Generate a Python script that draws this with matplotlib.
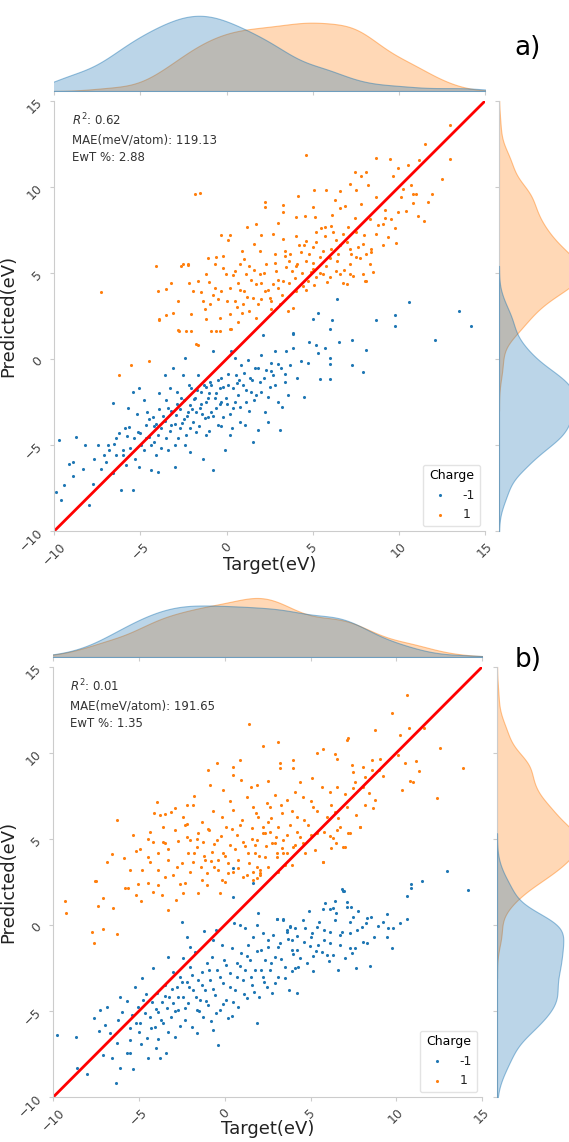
import numpy as np
import pandas as pd
import matplotlib
matplotlib.use("Agg")
import matplotlib.pyplot as plt
import seaborn as sns

# ---- panel a) : (target, predicted) ----
a_neg_pts = [
    (-9.71, -4.72), (-9.9, -7.73), (-9.6, -8.22), (-9.42, -7.35), (-9.13, -6.08), (-8.93, -5.99),
    (-8.74, -4.52), (-8.35, -6.37), (-7.97, -8.51), (-7.77, -7.25), (-7.67, -5.79), (-7.48, -5.01),
    (-7.09, -5.59), (-7.0, -5.99), (-6.9, -5.01), (-6.61, -2.58), (-6.51, -4.92), (-6.41, -5.59),
    (-6.22, -4.32), (-6.12, -7.64), (-6.03, -5.3), (-5.83, -6.17), (-5.74, -2.87), (-5.64, -3.94),
    (-5.45, -7.6), (-5.45, -1.89), (-5.35, -4.61), (-5.16, -4.23), (-5.06, -1.7), (-4.96, -5.01),
    (-4.77, -2.38), (-4.67, -3.84), (-4.48, -4.52), (-4.38, -6.47), (-4.28, -3.36), (-4.19, -4.81),
    (-3.99, -6.57), (-3.9, -1.99), (-3.8, -4.03), (-3.6, -0.92), (-3.51, -4.61), (-3.41, -2.87),
    (-3.31, -1.7), (-3.22, -3.84), (-3.12, -0.53), (-3.02, -5.01), (-3.02, -6.28), (-2.93, -3.25),
    (-2.73, -4.03), (-2.64, -2.28), (-2.54, -0.92), (-2.44, 0.06), (-2.34, -4.43), (-2.25, -3.06),
    (-2.15, -5.39), (-2.05, -1.7), (-1.96, -3.65), (-1.86, -2.28), (-1.76, -4.23), (-1.67, -0.92),
    (-1.57, -2.87), (-1.47, -1.89), (-1.38, -5.79), (-1.28, -3.45), (-1.18, -4.43), (-1.09, -2.28),
    (-0.99, -1.31), (-0.89, -3.06), (-0.79, 0.44), (-0.79, -6.47), (-0.7, -2.28), (-0.6, -2.87),
    (-0.5, -3.84), (-0.41, -1.7), (-0.31, -1.11), (-0.21, -3.36), (-0.12, -5.3), (-0.02, -2.28),
    (0.08, -1.5), (0.17, -4.43), (0.27, 0.44), (0.37, -2.87), (0.47, 0.06), (0.56, -0.92),
    (0.66, -2.09), (0.76, -3.65), (0.85, -0.34), (0.95, -1.5), (1.05, -3.84), (1.14, -2.48),
    (1.24, -0.04), (1.34, -1.11), (1.43, -1.89), (1.53, -4.81), (1.63, -0.53), (1.72, -2.09),
    (1.82, -4.14), (1.92, -1.31), (2.02, 0.25), (2.11, 1.42), (2.21, -3.06), (2.31, -0.63),
    (2.4, -3.65), (2.5, -1.6), (2.6, -0.24), (2.69, -0.92), (2.79, 0.44), (2.98, -2.48),
    (3.08, -4.14), (3.18, -0.53), (3.37, -1.31), (3.47, 0.44), (3.57, -2.09), (3.66, -0.34),
    (3.86, 0.64), (3.86, 1.51), (-4.6, -3.1), (-3.7, -3.3), (-2.9, -2.6), (-2.1, -2.7),
    (-1.2, -1.6), (-0.3, -2.5), (0.6, -1.4), (-5.8, -4.5), (-4.1, -3.8), (-2.5, -3.5),
    (6.4, 3.5), (10.6, 3.29), (8.7, 2.25), (9.8, 2.56), (9.8, 1.89), (13.5, 2.77),
    (14.2, 1.94), (12.1, 1.11), (7.3, 1.11), (8.1, 0.54), (7.3, -0.35), (7.9, -0.77),
    (6.0, -1.18), (5.4, -1.18), (4.5, -2.22), (5.0, 2.35), (5.3, 2.67), (6.1, 2.25),
    (6.0, 1.73), (3.85, 1.48), (6.5, 1.0), (5.7, 0.64), (6.0, 0.07), (6.0, -0.29),
    (5.3, 0.35), (4.7, -0.25), (4.3, -0.14), (4.8, 1.0), (5.2, 0.79), (4.1, -1.1),
    (-6.8, -5.3), (-6.4, -4.6), (-6.0, -5.6), (-5.9, -4.0), (-5.6, -5.2), (-5.3, -5.8),
    (-5.2, -3.2), (-5.0, -4.3), (-4.8, -5.3), (-4.7, -4.6), (-4.5, -3.5), (-4.4, -5.0),
    (-4.2, -3.9), (-4.0, -4.4), (-3.9, -2.9), (-3.8, -5.2), (-3.6, -3.6), (-3.5, -2.4),
    (-3.3, -4.2), (-3.2, -3.0), (-3.0, -3.8), (-2.9, -1.9), (-2.8, -4.6), (-2.7, -2.9),
    (-2.6, -3.7), (-2.5, -2.4), (-2.3, -3.3), (-2.2, -1.5), (-2.1, -4.0), (-2.0, -2.9),
    (-1.9, -2.3), (-1.8, -3.1), (-1.7, -1.8), (-1.6, -3.9), (-1.5, -2.6), (-1.4, -3.2),
    (-1.3, -1.5), (-1.2, -2.5), (-1.1, -3.4), (-1.0, -2.0), (-0.9, -1.5), (-0.8, -3.3),
    (-0.6, -2.0), (-0.5, -1.2), (-0.4, -2.6), (-0.3, -3.9), (-0.2, -1.6), (0.0, -2.6),
    (0.1, -0.9), (0.2, -3.2), (0.4, -1.7), (0.5, -2.5), (0.7, -1.2), (0.8, -2.8),
    (1.0, -0.8), (1.1, -1.8), (1.3, -3.0), (1.5, -1.2), (1.6, -2.4), (1.8, -0.5),
    (2.0, -1.9), (2.2, -1.1), (2.4, -2.2), (2.6, -0.7), (2.8, -1.5), (3.0, -0.3),
    (3.2, -2.8), (3.4, -0.9), (-7.3, -6.4), (-8.2, -5.0), (-8.9, -6.8), (-6.6, -6.6),
    (-5.1, -6.3), (-4.1, -5.6), (-3.4, -5.3), (-2.4, -5.0), (-1.0, -4.2), (0.3, -4.0),
]
a_pos_pts = [
    (4.63, 11.88), (-1.86, 9.6), (-1.57, 9.64), (12.96, 13.6), (11.51, 12.48), (12.96, 11.65),
    (8.66, 11.71), (9.51, 11.65), (11.18, 11.56), (9.96, 11.1), (10.54, 11.26), (12.48, 10.49),
    (7.44, 10.87), (8.12, 10.87), (7.83, 10.62), (7.15, 10.19), (8.21, 10.09), (9.67, 10.64),
    (10.25, 9.89), (10.73, 10.09), (11.02, 9.6), (11.9, 9.6), (11.7, 9.11), (10.83, 9.06),
    (10.15, 9.42), (8.7, 9.42), (7.54, 9.8), (6.57, 9.76), (5.79, 9.84), (5.07, 9.84),
    (4.14, 9.47), (2.21, 9.11), (3.27, 8.98), (6.28, 9.27), (5.02, 8.82), (6.57, 8.79),
    (9.18, 8.64), (9.96, 8.53), (11.12, 8.32), (11.45, 8.01), (9.57, 8.15), (9.09, 7.86),
    (8.31, 8.15), (7.44, 8.19), (7.05, 7.66), (6.08, 7.75), (5.69, 7.66), (5.11, 8.24),
    (4.53, 8.34), (4.05, 8.28), (3.27, 8.53), (2.21, 8.82), (1.72, 7.86), (1.2, 7.7),
    (-0.31, 7.23), (0.17, 7.23), (0.07, 6.92), (2.69, 7.27), (3.27, 6.97), (4.05, 7.17),
    (4.63, 6.88), (5.21, 7.37), (5.69, 7.14), (6.37, 6.92), (6.76, 7.27), (7.54, 7.37),
    (7.92, 6.68), (8.7, 7.27), (9.09, 6.63), (9.86, 6.72), (9.38, 7.12), (1.62, 6.68),
    (1.92, 6.3), (2.79, 6.1), (3.37, 6.3), (3.66, 6.1), (4.34, 6.2), (5.02, 6.49),
    (5.4, 5.91), (6.08, 6.39), (6.47, 6.1), (7.15, 6.39), (7.54, 5.91), (8.12, 6.1),
    (8.31, 5.52), (7.15, 5.52), (6.37, 5.13), (5.79, 5.42), (5.02, 5.22), (4.63, 5.71),
    (4.05, 5.42), (3.47, 5.32), (2.88, 5.13), (2.3, 5.52), (1.92, 4.93), (1.33, 5.42),
    (1.14, 4.93), (0.75, 5.52), (0.46, 5.13), (-0.02, 4.93), (-0.6, 5.91), (-0.7, 5.52),
    (-1.19, 4.93), (-1.67, 4.54), (-2.25, 5.52), (-2.54, 5.52), (-3.22, 4.44), (-4.09, 5.42),
    (-3.99, 3.96), (-3.51, 4.06), (-3.9, 2.3), (-3.12, 2.69), (-2.74, 1.63), (-2.35, 1.63),
    (-2.06, 2.59), (-1.96, 3.96), (-1.38, 3.37), (-1.28, 2.88), (-0.99, 3.18), (-0.7, 4.15),
    (-0.41, 2.4), (-0.31, 3.96), (0.17, 2.59), (0.27, 1.72), (0.46, 3.37), (0.66, 4.44),
    (0.95, 3.18), (1.04, 3.96), (1.33, 2.79), (1.53, 3.57), (1.72, 4.35), (2.01, 3.47),
    (2.21, 3.96), (2.5, 3.57), (2.69, 4.35), (2.98, 4.15), (3.27, 4.54), (3.56, 2.79),
    (3.85, 2.98), (4.05, 3.96), (4.43, 4.25), (4.73, 4.54), (4.92, 5.03), (5.21, 4.74),
    (5.6, 4.93), (5.99, 4.74), (6.76, 4.44), (7.15, 4.93), (7.92, 4.93), (8.12, 4.54),
    (-0.6, 1.63), (0.17, 1.72), (0.66, 2.17), (-1.77, 0.85), (-6.22, -0.92), (-5.54, -0.34),
    (-4.48, -0.1), (-3.9, 2.29), (-3.51, 2.58), (-2.83, 1.71), (-2.05, 1.62), (-1.67, 0.84),
    (-0.89, 1.62), (-0.41, 1.62), (-7.3, 3.9), (-2.63, 5.41), (-2.25, 5.47), (8.02, 4.54),
    (8.5, 5.03), (7.35, 4.84), (7.76, 5.9), (6.97, 4.35), (6.58, 4.93), (8.4, 6.2),
    (-1.5, 3.9), (-1.0, 4.5), (-0.5, 3.5), (-0.2, 5.3), (0.2, 4.1), (0.4, 4.9),
    (0.6, 3.0), (0.8, 4.0), (1.0, 5.8), (1.2, 3.6), (1.4, 4.6), (1.6, 5.2),
    (1.8, 3.2), (2.0, 4.4), (2.2, 5.0), (2.4, 4.0), (2.6, 3.4), (2.8, 5.6),
    (3.0, 4.6), (3.2, 3.7), (3.4, 6.0), (3.6, 4.4), (3.8, 5.1), (4.0, 4.7),
    (4.2, 6.6), (4.4, 5.0), (4.6, 4.0), (4.8, 6.1), (5.0, 5.6), (5.2, 6.8),
    (5.4, 5.0), (5.6, 6.3), (5.8, 4.5), (6.0, 5.9), (6.2, 7.4), (6.4, 5.7),
    (6.6, 6.6), (6.8, 5.2), (7.0, 6.8), (7.2, 6.1), (7.6, 6.5), (8.0, 7.2),
    (8.4, 6.4), (8.8, 7.8), (9.2, 8.2), (9.8, 7.6), (10.4, 8.6), (10.8, 9.6),
    (-2.8, 3.4), (-2.2, 4.4), (-1.2, 2.3), (-0.8, 3.7), (0.0, 3.4), (0.9, 2.7),
    (1.7, 2.4), (2.6, 2.9), (3.1, 3.2), (3.6, 5.7), (4.1, 5.5), (4.5, 6.6),
    (5.1, 4.3), (5.5, 7.6), (6.1, 8.4), (6.9, 8.9), (7.8, 9.0), (3.0, 7.9),
    (2.0, 7.2), (0.9, 6.3), (-0.2, 6.0), (-1.1, 5.9),
]

# ---- panel b) ----
b_neg_pts = [
    (-9.8, -6.39), (-8.67, -6.53), (-8.64, -8.29), (-8.05, -8.66), (-7.6, -5.39), (-7.31, -6.16),
    (-7.27, -4.94), (-6.98, -5.81), (-6.89, -4.75), (-7.08, -7.56), (-6.59, -7.75), (-6.69, -6.3),
    (-6.3, -6.88), (-6.34, -9.2), (-6.11, -8.33), (-6.11, -4.16), (-6.01, -5.04), (-5.72, -7.46),
    (-5.53, -7.42), (-5.53, -6.01), (-5.43, -5.23), (-5.37, -8.39), (-5.23, -3.58), (-5.18, -5.71),
    (-5.04, -4.75), (-4.94, -5.71), (-4.85, -3.1), (-4.75, -4.36), (-4.65, -5.13), (-4.55, -6.59),
    (-4.46, -7.75), (-4.36, -5.33), (-4.26, -4.46), (-4.17, -2.52), (-4.07, -5.91), (-4.01, -7.17),
    (-3.97, -3.97), (-3.87, -5.04), (-3.78, -7.75), (-3.68, -4.46), (-3.58, -5.71), (-3.48, -3.49),
    (-3.43, -7.46), (-3.39, -4.84), (-3.29, -1.84), (-3.23, -4.16), (-3.15, -5.33), (-3.04, -2.71),
    (-3.0, -4.55), (-2.9, -6.49), (-2.8, -3.58), (-2.71, -4.94), (-2.61, -3.0), (-2.51, 0.16),
    (-2.45, -1.94), (-2.42, -4.16), (-2.32, -5.52), (-2.22, -3.29), (-2.18, -0.68), (-2.12, -4.55),
    (-2.03, -2.42), (-1.93, -5.91), (-1.83, -3.78), (-1.74, -1.55), (-1.64, -4.94), (-1.54, -3.2),
    (-1.44, -4.36), (-1.35, -2.71), (-1.25, -5.33), (-1.19, -0.35), (-1.15, -3.78), (-1.06, -2.23),
    (-0.96, -4.65), (-0.86, -3.2), (-0.76, -1.84), (-0.7, -0.87), (-0.67, -6.1), (-0.57, -4.07),
    (-0.47, -2.61), (-0.37, -6.97), (-0.28, -4.94), (-0.18, -1.16), (-0.12, -3.39), (-0.04, -2.03),
    (0.07, -4.36), (0.21, -5.42), (0.31, -2.81), (0.4, -1.35), (0.5, 1.65), (0.54, 0.1),
    (0.6, -3.78), (0.69, -2.23), (0.79, -4.75), (0.89, 0.0), (0.93, -1.64), (1.04, -3.2),
    (1.18, -2.61), (1.28, -4.26), (1.37, -1.16), (1.47, -2.03), (1.57, -3.49), (1.67, -0.68),
    (1.76, -2.61), (1.86, -5.71), (1.9, 0.0), (1.96, 0.68), (2.02, -4.16), (2.09, -1.45),
    (2.21, -3.0), (2.25, -0.48), (2.35, -2.03), (2.44, -3.58), (2.54, -1.26), (2.64, -2.61),
    (2.74, -3.97), (2.79, -0.58), (2.93, -1.84), (3.03, 0.33), (3.12, -3.0), (3.22, -1.06),
    (3.41, 0.33), (3.51, -2.42), (3.61, -0.29), (3.77, -3.78), (3.8, -0.1), (3.9, -1.45),
    (4.19, -1.45), (4.23, -3.93), (4.29, -2.42), (0.5, 3.3), (1.63, 2.46),
    (12.94, 3.13), (14.2, 2.03), (11.52, 2.57), (10.86, 2.38), (10.86, 2.13), (10.6, 1.7),
    (6.87, 1.99), (6.95, 1.97), (6.43, 1.39), (7.11, 1.31), (7.36, 1.02), (7.11, 1.02),
    (7.79, 0.83), (6.29, 0.96), (5.71, 0.91), (4.93, 0.83), (6.48, 0.67), (7.5, 0.48),
    (8.27, 0.38), (8.51, 0.48), (9.48, 0.62), (9.21, 0.19), (10.6, 0.32), (10.22, 0.13),
    (9.79, -0.16), (9.5, -0.2), (8.95, -0.06), (8.23, 0.09), (7.98, -0.1), (7.69, -0.3),
    (7.3, -0.49), (6.81, -0.39), (6.13, -0.43), (5.79, -0.3), (5.36, -0.1), (5.07, -0.49),
    (4.58, 0.29), (4.68, -0.2), (3.8, -0.06), (3.41, 0.29), (3.03, 0.32), (3.61, -0.39),
    (3.9, -0.88), (4.19, -0.64), (4.97, -1.23), (5.45, -1.17), (6.13, -1.07), (6.72, -1.17),
    (7.3, -1.36), (7.59, -1.32), (8.08, -0.97), (8.27, -1.03), (8.7, -0.68), (9.44, -0.72),
    (9.73, -1.32), (5.94, -1.75), (6.33, -1.75), (5.65, -1.55), (5.16, -1.81), (3.99, -1.71),
    (4.09, -2.52), (5.16, -2.68), (6.62, -2.62), (7.65, -2.52), (8.47, -2.39), (7.4, -1.65),
    (5.84, 1.26), (6.13, 0.91), (6.82, 2.08),
    (-5.0, -6.2), (-4.6, -4.0), (-4.3, -6.0), (-4.0, -4.9), (-3.7, -5.5), (-3.5, -4.1),
    (-3.3, -6.2), (-3.1, -3.7), (-2.9, -5.0), (-2.7, -4.2), (-2.5, -3.3), (-2.3, -4.8),
    (-2.1, -3.6), (-1.9, -2.9), (-1.7, -4.2), (-1.5, -5.0), (-1.3, -3.5), (-1.1, -4.4),
    (-0.9, -2.6), (-0.7, -3.7), (-0.5, -5.1), (-0.3, -3.0), (-0.1, -4.6), (0.1, -2.3),
    (0.3, -3.6), (0.5, -4.5), (0.7, -3.0), (0.9, -2.4), (1.1, -4.0), (1.3, -1.8),
    (1.5, -3.0), (1.7, -3.9), (1.9, -1.5), (2.1, -2.6), (2.3, -3.3), (2.5, -0.9),
    (2.7, -2.2), (2.9, -3.4), (3.1, -1.3), (3.3, -2.0), (3.5, -3.1), (3.7, -0.8),
    (3.9, -2.7), (4.1, -0.2), (4.4, -1.9), (4.6, -1.0), (4.8, -2.2), (5.0, -0.7),
    (5.3, -1.5), (5.5, 0.2), (5.8, -0.9), (6.1, -2.1), (6.4, 0.3), (6.7, -0.6),
    (7.0, -1.9), (7.3, 0.2), (-6.2, -5.5), (-5.7, -4.4), (-5.5, -6.7), (-4.9, -6.9),
    (-3.9, -6.6), (-2.6, -5.9), (-1.6, -6.3), (-0.8, -5.6), (0.4, -5.3), (-2.0, -1.3),
    (-0.5, -0.3), (1.2, -0.2),
]
b_pos_pts = [
    (10.65, 13.38), (9.73, 12.31), (1.43, 11.67), (8.76, 11.34), (10.76, 11.44), (11.62, 11.44),
    (10.22, 11.05), (7.11, 10.76), (7.2, 10.89), (3.09, 10.66), (2.25, 10.41), (12.55, 10.27),
    (13.91, 9.11), (5.75, 10.22), (5.36, 9.98), (6.43, 9.94), (10.12, 9.89), (11.15, 9.56),
    (9.05, 9.65), (8.57, 9.6), (6.52, 9.63), (3.96, 9.6), (0.89, 9.6), (0.5, 9.21),
    (-0.43, 9.44), (-0.96, 9.01), (0.46, 8.72), (0.95, 8.43), (3.22, 9.11), (3.22, 9.4),
    (4.0, 9.11), (7.4, 9.3), (7.5, 8.92), (8.08, 9.21), (8.57, 9.01), (10.51, 9.4),
    (10.8, 8.39), (11.33, 8.96), (10.96, 8.3), (10.31, 7.85), (9.25, 8.67), (12.36, 7.37),
    (-0.86, 8.14), (-0.08, 7.85), (-2.22, 6.98), (-1.87, 6.98), (-3.97, 7.17), (-4.13, 6.53),
    (-3.48, 6.46), (-3.15, 6.59), (-4.36, 5.43), (-5.37, 5.24), (-6.3, 6.11), (-6.59, 4.11),
    (-6.89, 3.69), (-7.51, 2.58), (-5.53, 3.2), (-4.94, 4.4), (-4.46, 3.98), (-4.36, 3.69),
    (-3.87, 4.17), (-3.58, 4.85), (-3.48, 4.79), (-3.29, 3.78), (-2.9, 5.53), (-2.8, 3.39),
    (-2.42, 6.3), (-2.32, 5.82), (-2.22, 5.14), (-2.12, 4.17), (-2.03, 4.95), (-1.87, 3.69),
    (-1.64, 4.56), (-1.54, 5.33), (-1.35, 6.01), (-1.25, 4.85), (-1.15, 3.78), (-1.06, 3.01),
    (-0.9, 5.53), (-0.76, 4.27), (-0.63, 3.39), (-0.47, 4.95), (-0.37, 3.78), (-0.18, 6.3),
    (-0.08, 4.17), (0.07, 5.72), (0.21, 3.01), (0.31, 4.65), (0.5, 6.69), (0.69, 5.24),
    (0.79, 3.78), (0.89, 5.82), (1.08, 4.85), (1.28, 7.46), (1.38, 4.17), (1.57, 5.62),
    (1.67, 6.88), (1.76, 4.65), (1.86, 8.14), (1.96, 6.3), (2.06, 3.2), (2.25, 5.33),
    (2.35, 3.98), (2.44, 7.08), (2.54, 6.01), (2.64, 6.88), (2.74, 4.75), (2.93, 7.56),
    (3.03, 4.17), (3.12, 5.72), (3.32, 6.5), (3.41, 4.95), (3.51, 3.49), (3.65, 7.27),
    (3.8, 5.82), (4.0, 4.56), (4.1, 7.76), (4.19, 6.3), (4.39, 5.14), (4.58, 7.46),
    (4.68, 4.17), (4.87, 5.82), (5.07, 8.53), (5.17, 6.88), (5.36, 5.33), (5.65, 8.05),
    (5.75, 3.69), (5.94, 6.3), (6.14, 7.76), (6.29, 5.04), (6.43, 6.59), (6.56, 8.05),
    (6.72, 5.72), (6.91, 4.56), (7.11, 6.88), (7.3, 5.33), (7.5, 7.95), (7.65, 6.4),
    (7.89, 5.72), (8.18, 6.98), (8.43, 7.66), (8.62, 6.79), (8.76, 7.27), (8.08, 8.05),
    (-9.32, 1.42), (-9.26, 0.68), (-7.76, -0.42), (-7.62, -1.06), (-7.08, -0.25), (-7.41, 1.11),
    (-6.3, -0.54), (-6.5, 0.97), (-7.08, 1.55), (-7.57, 2.58), (-5.62, 2.17), (-5.82, 2.13),
    (-5.04, 2.39), (-4.88, 1.42), (-5.18, 1.75), (-4.46, 2.42), (-4.17, 1.94), (-3.87, 2.33),
    (-3.68, 1.75), (-3.29, 0.87), (-2.84, 1.46), (-2.42, 1.84), (-2.32, 2.42), (-1.54, 1.84),
    (-1.06, 2.33), (-0.28, 1.84), (-0.18, 2.62), (0.5, 3.1), (1.08, 2.81), (1.67, 3.1),
    (2.06, 2.91), (7.88, 5.71), (7.16, 5.32), (7.01, 4.55), (6.56, 5.52), (6.13, 5.17),
    (5.75, 3.68), (6.48, 4.74), (6.19, 4.45), (5.26, 4.36), (5.03, 5.23), (4.58, 4.74),
    (4.09, 4.65), (3.9, 3.48), (3.61, 5.23), (3.32, 4.45), (3.03, 3.97), (3.41, 4.16),
    (2.93, 4.74), (2.54, 3.39), (2.05, 3.0), (1.86, 2.71), (1.66, 2.61), (3.12, 3.1),
    (2.64, 5.42), (1.86, 4.94), (2.34, 5.32), (1.76, 4.16), (1.86, 3.39),
    (-4.8, 3.2), (-4.2, 4.8), (-3.9, 3.2), (-3.6, 5.7), (-3.3, 4.4), (-3.0, 2.9),
    (-2.7, 4.9), (-2.5, 3.6), (-2.2, 5.9), (-2.0, 3.1), (-1.8, 4.2), (-1.6, 5.0),
    (-1.4, 3.4), (-1.2, 4.0), (-1.0, 5.6), (-0.8, 3.7), (-0.6, 4.7), (-0.4, 3.2),
    (-0.2, 5.2), (0.0, 4.0), (0.2, 3.6), (0.4, 5.6), (0.6, 4.4), (0.8, 3.3),
    (1.0, 6.1), (1.2, 4.6), (1.4, 3.6), (1.6, 5.0), (1.8, 6.5), (2.0, 4.0),
    (2.2, 5.7), (2.4, 4.6), (2.7, 6.2), (3.0, 5.1), (3.3, 7.0), (3.6, 4.2),
    (3.9, 6.6), (4.2, 5.4), (4.6, 6.1), (5.0, 7.2), (5.4, 6.6), (5.8, 5.4),
    (6.2, 7.0), (6.6, 6.2), (7.0, 7.6), (7.6, 8.3), (8.2, 8.6), (9.0, 9.0),
    (-5.9, 3.9), (-5.2, 4.3), (-4.5, 5.0), (-3.8, 6.4), (-2.9, 6.8), (-1.8, 7.5),
    (-0.7, 6.6), (0.3, 7.2), (1.5, 8.0), (2.5, 8.4), (4.4, 8.3), (-1.3, 2.6),
    (0.0, 2.5), (1.3, 2.9), (-2.6, 2.4), (-3.5, 2.8),
]

a_stats = ["0.62", "119.13", "2.88"]
b_stats = ["0.01", "191.65", "1.35"]
charges = [-1, 1]
ticks = [-10, -5, 0, 5, 10, 15]
colors = {-1: "#1f77b4", 1: "#ff7f0e"}
W, H = 569, 1142


def to_frame(neg, pos):
    rows = [(x, y, -1) for x, y in neg] + [(x, y, 1) for x, y in pos]
    return pd.DataFrame(rows, columns=["target", "pred", "charge"])


def frac(x0, y0, w, h):
    # pixel box (left, top, width, height) -> figure fraction
    return [x0 / W, 1 - (y0 + h) / H, w / W, h / H]


def soften_edges(m):
    # lighter outline; keep the blue density on top of the orange one
    for coll in m.collections:
        fc = coll.get_facecolor()
        if len(fc):
            r, g, b, _ = fc[0]
            coll.set_edgecolor((r, g, b, 0.45))
            coll.set_zorder(3 if b > r else 2)


def panel(fig, df, stats, tag, main_box, top_box, side_box, tag_y, xlab_y):
    ax = fig.add_axes(frac(*main_box))
    axt = fig.add_axes(frac(*top_box), sharex=ax)
    axr = fig.add_axes(frac(*side_box), sharey=ax)

    for c in charges:
        d = df[df.charge == c]
        ax.scatter(d.target, d.pred, s=5, color=colors[c], linewidths=0, label=str(c))
    ax.plot([-10, 15], [-10, 15], color="red", lw=2)
    ax.set_xlim(-10, 15)
    ax.set_ylim(-10, 15)
    ax.set_xticks(ticks)
    ax.set_yticks(ticks)
    ax.tick_params(axis="both", labelsize=9, labelcolor="#444444", color="#cccccc",
                   length=3, rotation=45)
    ax.set_xlabel("Target(eV)", fontsize=13, color="#222222")
    ax.set_ylabel("Predicted(eV)", fontsize=13, color="#222222")
    ax.xaxis.set_label_coords(0.5, xlab_y)
    ax.yaxis.set_label_coords(-0.085, 0.5)
    for s in ["top", "right"]:
        ax.spines[s].set_visible(False)
    for s in ["left", "bottom"]:
        ax.spines[s].set_color("#cccccc")

    txt = "$R^2$: {}\nMAE(meV/atom): {}\nEwT %: {}".format(*stats)
    ax.text(0.04, 0.975, txt, transform=ax.transAxes, va="top", ha="left",
            fontsize=8.5, color="#333333", linespacing=1.5)

    leg = ax.legend(title="Charge", loc="lower right", fontsize=9, title_fontsize=9,
                    markerscale=1.0, borderaxespad=0.4)
    leg.get_frame().set_edgecolor("#dddddd")
    for t in leg.get_texts():
        t.set_color("#222222")

    sns.kdeplot(data=df, x="target", hue="charge", hue_order=charges, palette=colors,
                fill=True, alpha=0.3, linewidth=0.8, bw_adjust=0.8, legend=False, ax=axt)
    sns.kdeplot(data=df, y="pred", hue="charge", hue_order=charges, palette=colors,
                fill=True, alpha=0.3, linewidth=0.8, bw_adjust=0.8, legend=False, ax=axr)
    soften_edges(axt)
    soften_edges(axr)

    for m in (axt, axr):
        for s in m.spines.values():
            s.set_visible(False)
        m.set_xlabel("")
        m.set_ylabel("")
        m.tick_params(labelleft=False, labelbottom=False, color="#cccccc", length=3)
    axt.spines["bottom"].set_visible(True)
    axt.spines["bottom"].set_color("#cccccc")
    axt.tick_params(axis="y", length=0)
    axt.set_ylim(bottom=0)
    axr.spines["left"].set_visible(True)
    axr.spines["left"].set_color("#cccccc")
    axr.tick_params(axis="x", length=0)
    axr.set_xlim(left=0)

    fig.text(528 / W, 1 - tag_y / H, tag, fontsize=19, ha="center", va="center")


fig = plt.figure(figsize=(W / 100, H / 100), dpi=100)

panel(fig, to_frame(a_neg_pts, a_pos_pts), a_stats, "a)",
      (54.3, 101, 430.7, 430), (54.3, 12, 430.7, 79), (499, 101, 86, 430), 48, -0.058)
panel(fig, to_frame(b_neg_pts, b_pos_pts), b_stats, "b)",
      (53.3, 667, 428.7, 430), (53.3, 595, 428.7, 62), (497, 667, 86, 430), 660, -0.054)

fig.savefig("out.png", dpi=100)
